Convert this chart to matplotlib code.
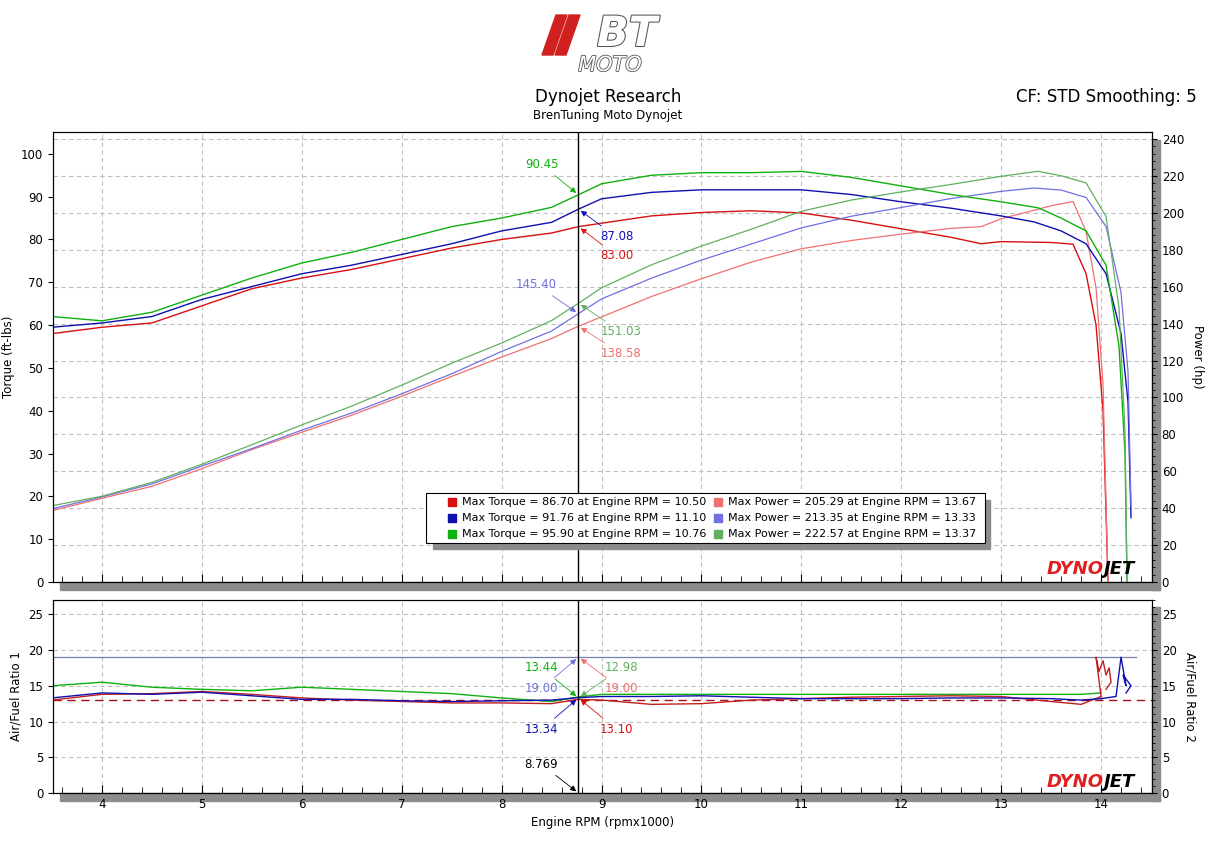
import matplotlib.pyplot as plt
import matplotlib.patheffects as pe
import numpy as np
from matplotlib.patches import Rectangle, Polygon
from matplotlib.ticker import MultipleLocator

# ---- data ----
rpm_red = [3.5, 4.0, 4.5, 5.0, 5.5, 6.0, 6.5, 7.0, 7.5, 8.0, 8.5, 8.77, 9.0, 9.5, 10.0, 10.5, 11.0,
           11.5, 12.0, 12.5, 12.8, 13.0, 13.5, 13.72, 13.85, 13.95, 14.02, 14.07]
tq_red = [58, 59.5, 60.5, 64.5, 68.5, 71, 73, 75.5, 78, 80, 81.5, 83, 83.8, 85.5, 86.3, 86.7, 86.2,
          84.5, 82.5, 80.5, 79, 79.5, 79.3, 78.9, 72, 60, 40, 0]
rpm_blue = [3.5, 4.0, 4.5, 5.0, 5.5, 6.0, 6.5, 7.0, 7.5, 8.0, 8.5, 8.77, 9.0, 9.5, 10.0, 10.5, 11.0,
            11.5, 12.0, 12.5, 13.0, 13.33, 13.6, 13.85, 14.05, 14.2, 14.27, 14.3]
tq_blue = [59.5, 60.5, 62, 66, 69, 72, 74, 76.5, 79, 82, 84, 87.08, 89.5, 91, 91.6, 91.6, 91.6,
           90.5, 88.8, 87.3, 85.5, 84.1, 82.0, 79, 72, 58, 42, 15]
rpm_green = [3.5, 4.0, 4.5, 5.0, 5.5, 6.0, 6.5, 7.0, 7.5, 8.0, 8.5, 8.77, 9.0, 9.5, 10.0, 10.5, 11.0,
             11.5, 12.0, 12.5, 13.0, 13.37, 13.6, 13.85, 14.05, 14.18, 14.24, 14.26]
tq_green = [62, 61, 63, 67, 71, 74.5, 77, 80, 83, 85, 87.5, 90.45, 93, 95, 95.6, 95.6, 95.9,
            94.5, 92.5, 90.5, 88.8, 87.4, 85.0, 82, 74, 55, 30, 0]

afr_rpm = [3.5, 4.0, 4.5, 5.0, 5.5, 6.0, 6.5, 7.0, 7.5, 8.0, 8.5, 8.77, 9.0, 9.5, 10.0, 10.5, 11.0,
           11.5, 12.0, 12.5, 13.0, 13.5, 13.8, 14.0]
afr_red = [13.0, 13.8, 13.9, 14.2, 13.8, 13.3, 13.0, 12.8, 12.6, 12.6, 12.5, 13.1, 13.0, 12.4, 12.5,
           13.0, 13.2, 13.4, 13.5, 13.6, 13.5, 12.8, 12.4, 13.5]
afr_blue = [13.3, 14.0, 13.8, 14.1, 13.6, 13.1, 13.1, 12.9, 12.8, 12.9, 13.0, 13.34, 13.5, 13.5, 13.6,
            13.4, 13.2, 13.2, 13.2, 13.3, 13.3, 13.2, 13.0, 13.2]
afr_green = [15.0, 15.5, 14.8, 14.5, 14.3, 14.8, 14.5, 14.2, 13.9, 13.3, 12.8, 13.44, 13.8, 13.8, 13.8,
             13.8, 13.8, 13.8, 13.8, 13.8, 13.8, 13.8, 13.8, 14.0]
tail_red_rpm = [14.0, 13.95, 13.98, 14.02, 14.05, 14.08, 14.1, 14.05]
tail_red_afr = [13.5, 19.0, 17.0, 18.5, 16.5, 17.5, 15.5, 14.5]
tail_blue_rpm = [14.0, 14.15, 14.2, 14.25, 14.22, 14.3, 14.25]
tail_blue_afr = [13.2, 13.5, 19.0, 15.0, 16.5, 15.0, 14.0]
afr_target = 13.0
afr_limit = 19.0

cursor_rpm = 8.769
legend_rows = [("#d81010", "Max Torque = 86.70 at Engine RPM = 10.50", "#f07070", "Max Power = 205.29 at Engine RPM = 13.67"),
               ("#1010b0", "Max Torque = 91.76 at Engine RPM = 11.10", "#7070e0", "Max Power = 213.35 at Engine RPM = 13.33"),
               ("#10b010", "Max Torque = 95.90 at Engine RPM = 10.76", "#60b060", "Max Power = 222.57 at Engine RPM = 13.37")]

C_RED, C_BLUE, C_GREEN = "#d81010", "#1010b0", "#10b010"
P_RED, P_BLUE, P_GREEN = "#f07070", "#7070e0", "#60b060"
HP_MAX, TQ_MAX = 243.8, 105.1


def hp(rpm, tq):
    return np.array(tq) * np.array(rpm) * 1000 / 5252


plt.rcParams['font.family'] = ['DejaVu Sans']
plt.rcParams['font.size'] = 8.5
fig = plt.figure(figsize=(12.16, 8.43), dpi=100)
W, H = 1216, 843


def rect(x0, y0, x1, y1):
    return [x0 / W, 1 - y1 / H, (x1 - x0) / W, (y1 - y0) / H]


def box(x0, y0, x1, y1, **kw):
    fig.patches.append(Rectangle((x0 / W, 1 - y1 / H), (x1 - x0) / W, (y1 - y0) / H,
                                 transform=fig.transFigure, **kw))


# shadows
for (x0, y0, x1, y1) in [(1152, 140, 1160, 590), (60, 582, 1160, 590),
                         (1152, 607, 1160, 801), (60, 793, 1160, 801)]:
    box(x0, y0, x1, y1, color="#8c8c8c", zorder=0)

ax = fig.add_axes(rect(53, 132, 1152, 582))
ax2 = ax.twinx()
bx = fig.add_axes(rect(53, 600, 1152, 793))
bx2 = bx.twinx()

grid_kw = dict(color="#c0c0c0", linestyle=(0, (4, 3)), linewidth=0.8)
for a in (ax, bx):
    a.set_xlim(3.51, 14.51)
    a.xaxis.set_major_locator(MultipleLocator(1))
    a.xaxis.set_minor_locator(MultipleLocator(0.2))
    a.grid(True, axis='x', **grid_kw)
    a.tick_params(axis='x', which='both', direction='in', length=6)
    a.tick_params(axis='x', which='minor', length=4)
    a.set_zorder(2)
    a.patch.set_visible(False)

# top panel
ax.set_ylim(0, TQ_MAX)
ax.yaxis.set_major_locator(MultipleLocator(10))
ax.set_ylabel("Torque (ft-lbs)")
ax.tick_params(axis='x', labelbottom=False)
ax2.set_ylim(0, HP_MAX)
ax2.yaxis.set_major_locator(MultipleLocator(20))
ax2.yaxis.set_minor_locator(MultipleLocator(4))
ax2.set_ylabel("Power (hp)", rotation=270, labelpad=14)
ax2.grid(True, axis='y', **grid_kw)
ax2.set_zorder(1)
for r, t, c, pc in [(rpm_red, tq_red, C_RED, P_RED), (rpm_blue, tq_blue, C_BLUE, P_BLUE),
                    (rpm_green, tq_green, C_GREEN, P_GREEN)]:
    ax.plot(r, t, color=c, lw=1.0)
    ax.plot(r, hp(r, t) * TQ_MAX / HP_MAX, color=pc, lw=0.9)
ax.axvline(cursor_rpm, color="black", lw=1)

# cursor annotations (torque axis units)
arr = dict(arrowstyle="-|>", lw=0.6)
for label, yv, tx, ty, col in [("90.45", 90.45, 8.4, 97.5, C_GREEN),
                               ("87.08", 87.08, 9.15, 80.6, C_BLUE),
                               ("83.00", 83.0, 9.15, 76.2, C_RED),
                               ("145.40", 145.4 * TQ_MAX / HP_MAX, 8.35, 69.4, P_BLUE),
                               ("151.03", 151.03 * TQ_MAX / HP_MAX, 9.2, 58.4, P_GREEN),
                               ("138.58", 138.58 * TQ_MAX / HP_MAX, 9.2, 53.3, P_RED)]:
    ax.annotate(label, xy=(cursor_rpm, yv), xytext=(tx, ty), color=col, ha='center', va='center',
                arrowprops=dict(color=col, **arr))

# legend box
box(433, 500, 990, 549, color="#8c8c8c", zorder=3)
box(426, 493, 985, 543, facecolor="white", edgecolor="black", lw=0.8, zorder=4)
for i, (c1, t1, c2, t2) in enumerate(legend_rows):
    yc = 502 + i * 16
    box(448, yc - 4, 456, yc + 4, color=c1, zorder=5)
    fig.text(462 / W, 1 - yc / H, t1, va='center', fontsize=8, zorder=5)
    box(714, yc - 4, 722, yc + 4, color=c2, zorder=5)
    fig.text(728 / W, 1 - yc / H, t2, va='center', fontsize=8, zorder=5)

# bottom panel
for a in (bx, bx2):
    a.set_ylim(0, 27)
    a.yaxis.set_major_locator(MultipleLocator(5))
bx2.yaxis.set_minor_locator(MultipleLocator(1))
bx2.grid(True, axis='y', **grid_kw)
bx2.set_zorder(1)
bx.set_ylabel("Air/Fuel Ratio 1")
bx2.set_ylabel("Air/Fuel Ratio 2", rotation=270, labelpad=14)
bx.set_xlabel("Engine RPM (rpmx1000)")
bx.plot([3.51, 14.35], [afr_limit, afr_limit], color="#7080b0", lw=0.9)
bx.axhline(afr_target, color="#a01020", lw=1.0, linestyle=(0, (6, 4)))
bx.plot(afr_rpm, afr_green, color=C_GREEN, lw=1.0)
bx.plot(afr_rpm, afr_red, color="#c02020", lw=1.0)
bx.plot(afr_rpm, afr_blue, color=C_BLUE, lw=1.0)
bx.plot(tail_red_rpm, tail_red_afr, color="#c02020", lw=1.0)
bx.plot(tail_blue_rpm, tail_blue_afr, color=C_BLUE, lw=1.0)
bx.axvline(cursor_rpm, color="black", lw=1)
for label, yv, tx, ty, col in [("13.44", 13.3, 8.4, 17.5, C_GREEN),
                               ("19.00", 19, 8.4, 14.6, P_BLUE),
                               ("13.34", 13.3, 8.4, 8.9, C_BLUE),
                               ("12.98", 13.3, 9.2, 17.5, P_GREEN),
                               ("19.00", 19, 9.2, 14.6, P_RED),
                               ("13.10", 13.3, 9.15, 8.9, C_RED),
                               ("8.769", 0, 8.4, 4.0, "black")]:
    bx.annotate(label, xy=(cursor_rpm, yv), xytext=(tx, ty), color=col, ha='center', va='center',
                arrowprops=dict(color=col, **arr))

# DYNOJET marks
for a, yb in ((ax, 1), (bx, 0.3)):
    a.text(14.03, yb, "DYNO", color="#e02020", fontsize=13, fontweight='bold', style='italic',
           ha='right', va='bottom', zorder=6)
    a.text(14.03, yb, "JET", color="black", fontsize=13, fontweight='bold', style='italic',
           ha='left', va='bottom', zorder=6)

# header logo
for dx in (0, 13):
    fig.patches.append(Polygon([((556 + dx) / W, 1 - 15 / H), ((567 + dx) / W, 1 - 15 / H),
                                ((553 + dx) / W, 1 - 55 / H), ((542 + dx) / W, 1 - 55 / H)],
                               closed=True, transform=fig.transFigure, color="#d02020"))
t = fig.text(627 / W, 1 - 34 / H, "BT", fontsize=30, style='italic', ha='center', va='center',
             color="white", fontweight='bold')
t.set_path_effects([pe.withStroke(linewidth=1.5, foreground="#555555")])
t = fig.text(610 / W, 1 - 65 / H, "MOTO", fontsize=15, style='italic', ha='center', va='center',
             color="white")
t.set_path_effects([pe.withStroke(linewidth=1.2, foreground="#555555")])
fig.text(608 / W, 1 - 97 / H, "Dynojet Research", fontsize=12, ha='center', va='center')
fig.text(608 / W, 1 - 116 / H, "BrenTuning Moto Dynojet", fontsize=8.5, ha='center', va='center')
fig.text(1197 / W, 1 - 97 / H, "CF: STD Smoothing: 5", fontsize=12, ha='right', va='center')

fig.savefig("out.png", dpi=100)
